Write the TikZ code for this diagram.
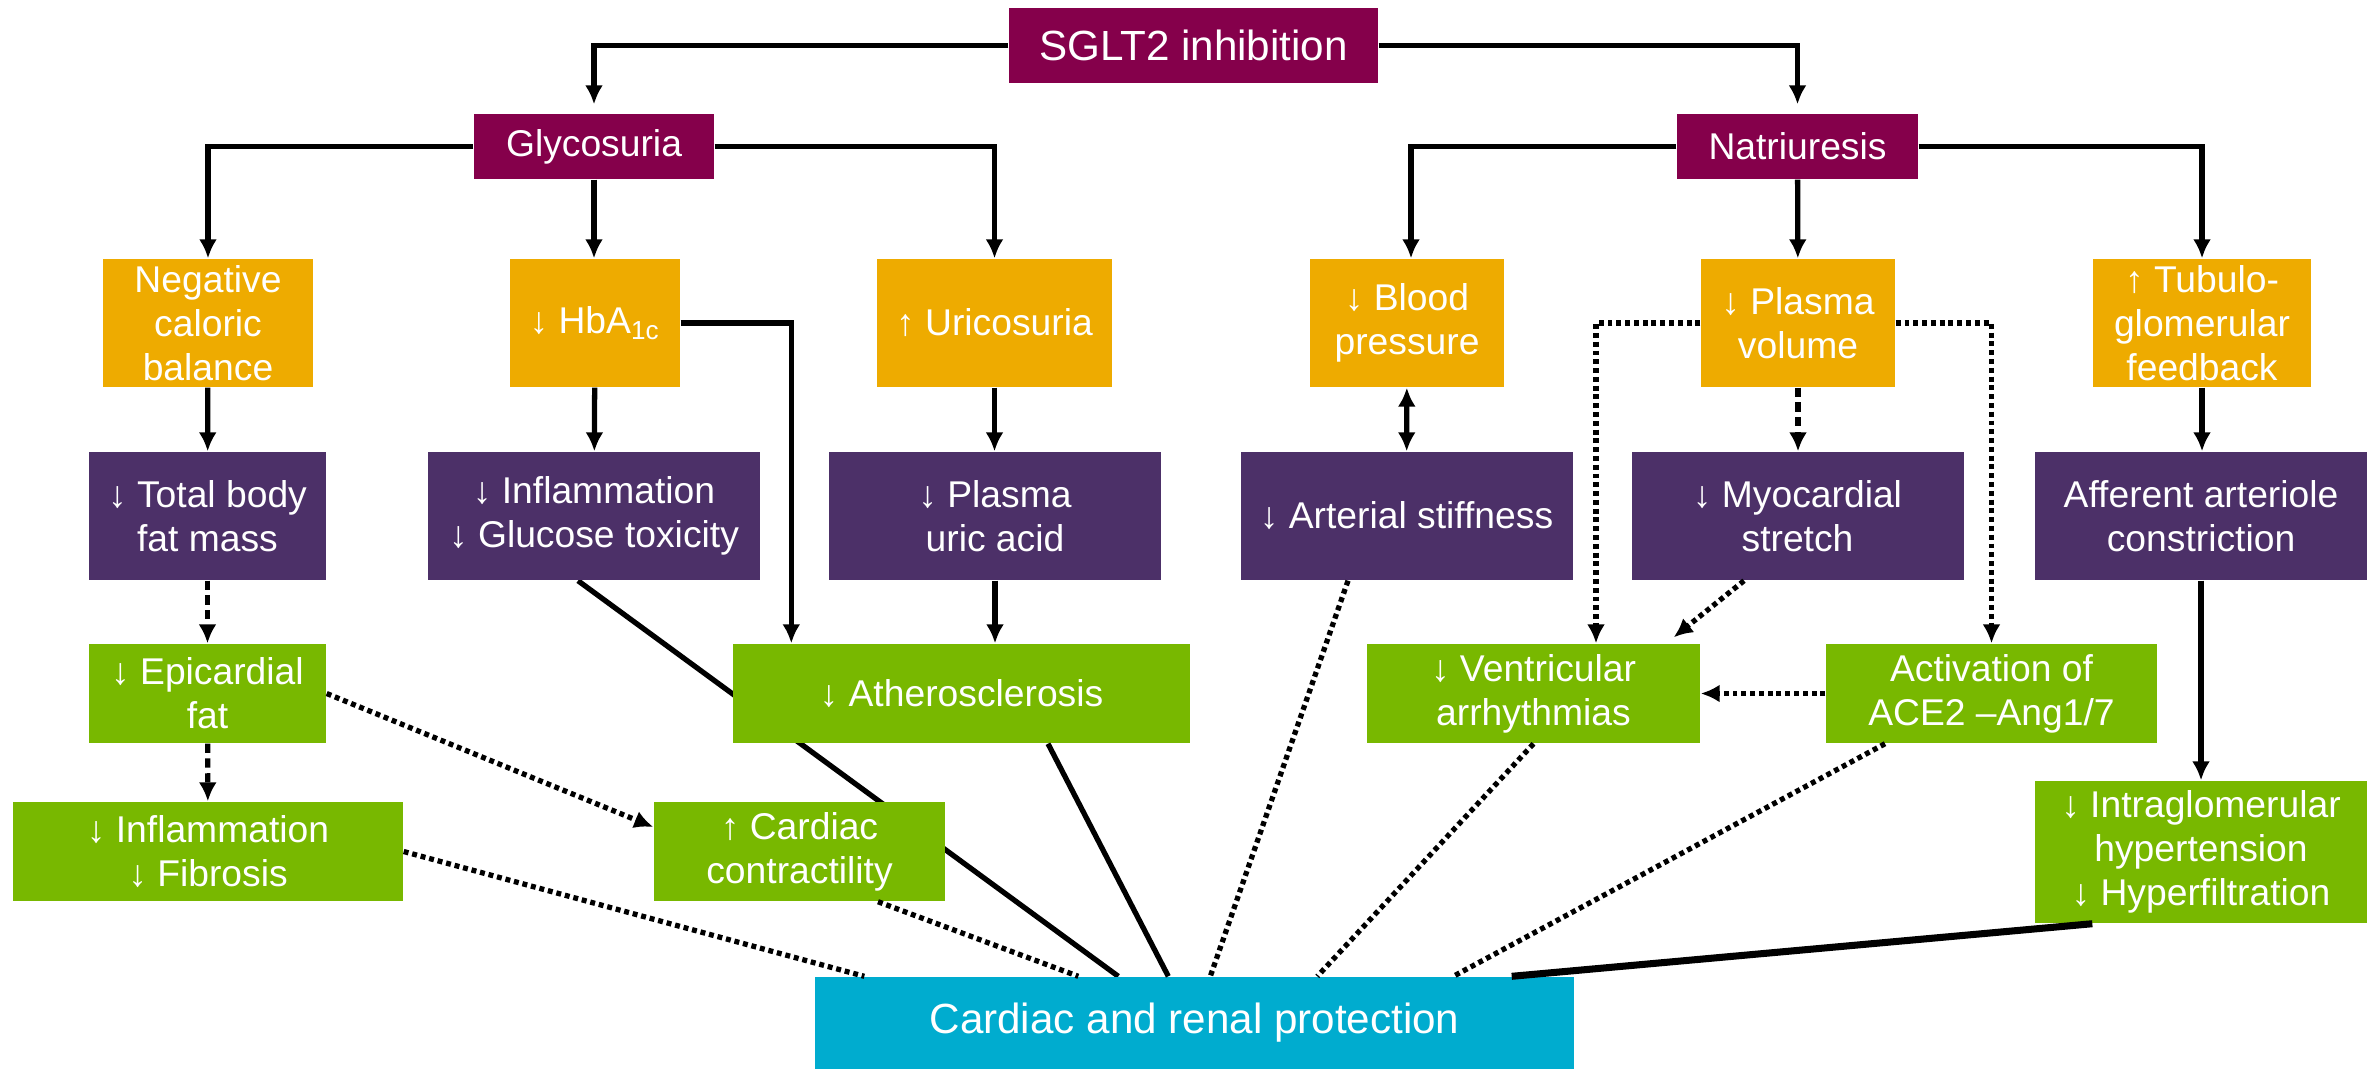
\documentclass[tikz,border=0pt]{standalone}
\usepackage{fontspec}
\setmainfont{Liberation Sans}
\usetikzlibrary{arrows.meta,backgrounds}
\definecolor{sgltred}{HTML}{85004B}
\definecolor{effyellow}{HTML}{EEAB00}
\definecolor{effpurple}{HTML}{4C3068}
\definecolor{effgreen}{HTML}{78B800}
\definecolor{protblue}{HTML}{00ACCF}
\begin{document}
\begin{tikzpicture}[
  box/.style={text=white, align=center, inner sep=0pt, font=\fontsize{10.6}{12.6}\selectfont},
  rbox/.style={box, fill=sgltred, minimum height=0.65cm},
  ybox/.style={box, fill=effyellow, minimum height=1.28cm},
  pbox/.style={box, fill=effpurple, minimum height=1.28cm, minimum width=3.32cm},
  gbox/.style={box, fill=effgreen, minimum height=0.99cm},
  link/.style={line width=1.5pt},
  arr/.style={link, -{Latex[length=1.9mm,width=1.8mm]}},
  dotline/.style={link, dash pattern=on 1.4pt off 1.1pt},
  dashline/.style={link, dash pattern=on 2.6pt off 1.6pt}]
  \useasboundingbox (0,0) rectangle (23.79,-10.70);
  % Top: inhibition and its two direct effects
  \node[rbox, minimum width=3.69cm, minimum height=0.75cm, font=\fontsize{12}{14}\selectfont] (sglt) at (11.935,-0.455) {SGLT2 inhibition};
  \node[rbox, minimum width=2.40cm] (glyc) at (5.94,-1.465) {Glycosuria};
  \node[rbox, minimum width=2.41cm] (natri) at (17.975,-1.465) {Natriuresis};
  % Yellow row
  \node[ybox, minimum width=2.10cm] (negcal) at (2.08,-3.23) {Negative\\caloric\\balance};
  \node[ybox, minimum width=1.70cm] (hba) at (5.95,-3.23) {↓ HbA\textsubscript{1c}};
  \node[ybox, minimum width=2.35cm] (uric) at (9.945,-3.23) {↑ Uricosuria};
  \node[ybox, minimum width=1.94cm] (bp) at (14.07,-3.23) {↓ Blood\\pressure};
  \node[ybox, minimum width=1.94cm] (pvol) at (17.98,-3.23) {↓ Plasma\\volume};
  \node[ybox, minimum width=2.18cm] (tgf) at (22.02,-3.23) {↑ Tubulo-\\glomerular\\feedback};
  % Purple row
  \node[pbox, minimum width=2.37cm] (fatmass) at (2.075,-5.16) {↓ Total body\\fat mass};
  \node[pbox] (inflam) at (5.94,-5.16) {↓ Inflammation\\↓ Glucose toxicity};
  \node[pbox] (uricacid) at (9.95,-5.16) {↓ Plasma\\uric acid};
  \node[pbox] (stiff) at (14.065,-5.16) {↓ Arterial stiffness};
  \node[pbox] (stretch) at (17.975,-5.16) {↓ Myocardial\\stretch};
  \node[pbox] (afferent) at (22.01,-5.16) {Afferent arteriole\\constriction};
  % Green rows
  \node[gbox, minimum width=2.37cm] (epi) at (2.075,-6.935) {↓ Epicardial\\fat};
  \node[gbox, minimum width=4.57cm] (athero) at (9.615,-6.935) {↓ Atherosclerosis};
  \node[gbox, minimum width=3.33cm] (ventr) at (15.335,-6.935) {↓ Ventricular\\arrhythmias};
  \node[gbox, minimum width=3.31cm] (ace) at (19.915,-6.935) {Activation of\\ACE2 –Ang1/7};
  \node[gbox, minimum width=3.90cm] (fibro) at (2.08,-8.515) {↓ Inflammation\\↓ Fibrosis};
  \node[gbox, minimum width=2.91cm] (contr) at (7.995,-8.515) {↑ Cardiac\\contractility};
  \node[gbox, minimum width=3.32cm, minimum height=1.42cm] (intra) at (22.01,-8.52) {↓ Intraglomerular\\hypertension\\↓ Hyperfiltration};
  % Bottom
  \node[box, fill=protblue, minimum width=7.59cm, minimum height=0.92cm, font=\fontsize{12}{14}\selectfont] (prot) at (11.945,-10.23) {Cardiac and renal protection};

  % Tree arrows
  \draw[arr, shorten >=0.9mm] (sglt.west) -| (glyc);
  \draw[arr, shorten >=0.9mm] (sglt.east) -| (natri);
  \draw[arr] (glyc.west) -| (negcal);
  \draw[arr] (glyc.south) -- (glyc.south |- hba.north);
  \draw[arr] (glyc.east) -| (uric);
  \draw[arr] (natri.west) -| ([xshift=0.4mm]bp.north);
  \draw[arr] (natri) -- (pvol);
  \draw[arr] (natri.east) -| (tgf);
  \draw[arr] (negcal) -- (fatmass);
  \draw[arr] (hba) -- (inflam);
  \draw[arr] (uric.south) -- (uric.south |- uricacid.north);
  \draw[arr] (hba.east) -| ([xshift=5.9mm]athero.north west);
  \draw[arr] (uricacid.south) -- (uricacid.south |- athero.north);
  \draw[arr] (tgf.south) -- (tgf.south |- afferent.north);
  \draw[arr] (afferent.south) -- (afferent.south |- intra.north);
  \draw[link, {Latex[length=1.9mm,width=1.8mm]}-{Latex[length=1.9mm,width=1.8mm]}] (bp) -- (stiff);
  % Dashed and dotted effects
  \draw[arr, dashline] (fatmass) -- (epi);
  \draw[arr, dashline] (epi) -- (fibro);
  \draw[arr, dashline] (pvol.south) -- (pvol.south |- stretch.north);
  \draw[arr, dotline] (epi.east) -- ([yshift=2.45mm]contr.west);
  \draw[arr, dotline] (pvol.west) -| ([xshift=6.25mm]ventr.north);
  \draw[arr, dotline] (pvol.east) -| (ace.north);
  \draw[arr, dotline] ([xshift=-5.35mm]stretch.south) -- ([xshift=-2.7mm, yshift=0.6mm]ventr.north east);
  \draw[arr, dotline] (ace) -- (ventr);
  % Links into protection
  \draw[dotline] (fibro.east) -- ([xshift=5mm]prot.north west);
  \draw[dotline] ([xshift=7.85mm]contr.south) -- ([xshift=26.4mm]prot.north west);
  \draw[link] ([xshift=8.65mm]athero.south) -- ([xshift=35.4mm]prot.north west);
  \draw[dotline] ([xshift=-5.85mm]stiff.south) -- ([xshift=39.6mm]prot.north west);
  \draw[dotline] (ventr.south) -- ([xshift=50.3mm]prot.north west);
  \draw[dotline] ([xshift=-10.65mm]ace.south) -- ([xshift=63.9mm]prot.north west);
  \draw[link, line width=2pt] ([xshift=5.8mm]intra.south west) -- ([xshift=-6.3mm]prot.north east);
  \begin{pgfonlayer}{background}
    % runs behind the green boxes
    \draw[link] ([xshift=-1.6mm]inflam.south) -- ([xshift=30.4mm]prot.north west);
  \end{pgfonlayer}
\end{tikzpicture}
\end{document}
